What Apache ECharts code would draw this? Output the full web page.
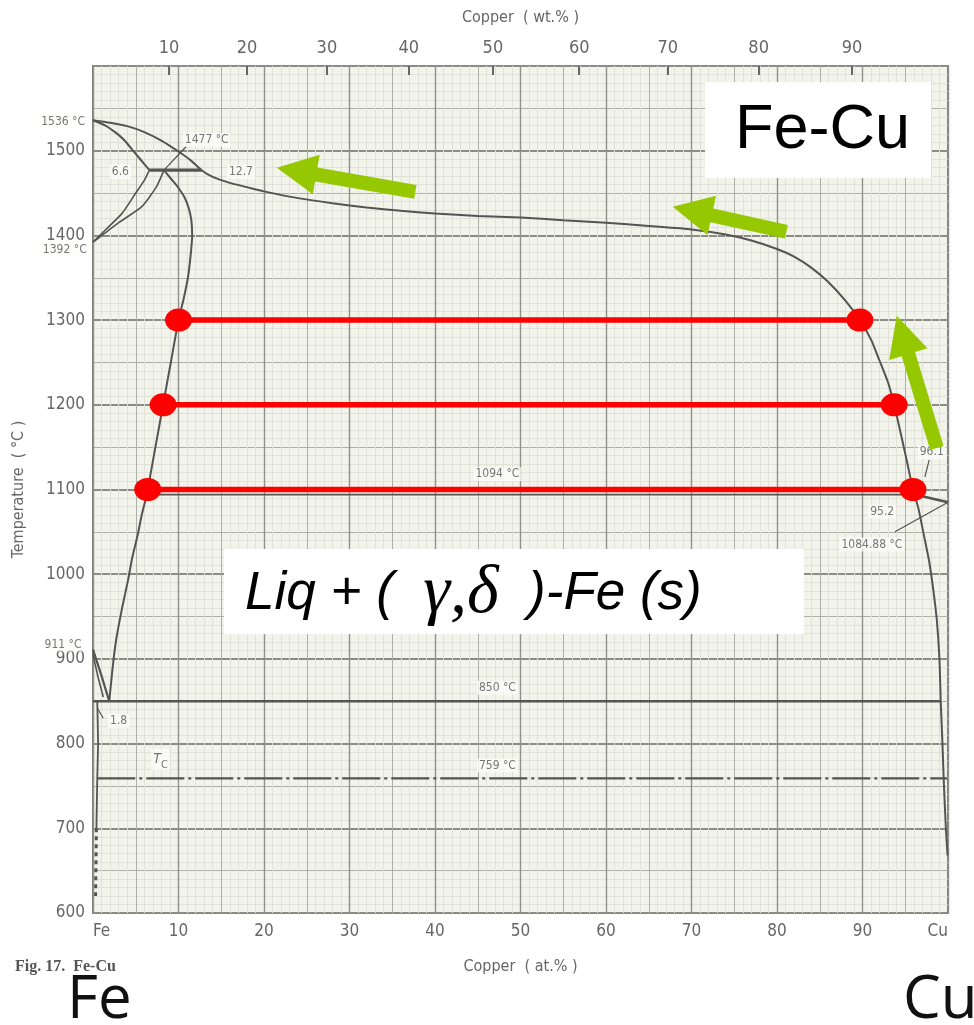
<!DOCTYPE html>
<html>
<head>
<meta charset="utf-8">
<script src="https://cdn.jsdelivr.net/npm/echarts@6/dist/echarts.min.js"></script>
<style>
  html, body { margin: 0; padding: 0; background: #ffffff; }
  #chart { width: 974px; height: 1025px; }
</style>
</head>
<body>
<div id="chart"></div>
<script>
// ---- Axis ticks ----
const atTicks = [0, 10, 20, 30, 40, 50, 60, 70, 80, 90, 100];   // Copper (at.%)
const wtTicks = [10, 20, 30, 40, 50, 60, 70, 80, 90];           // Copper (wt.%)
const tempTicks = [600, 700, 800, 900, 1000, 1100, 1200, 1300, 1400, 1500];

// ---- Phase boundaries, [Cu at.%, T °C] ----
const liquidus = [[0,1536],[2,1533],[4,1529],[6,1522],[8,1512],[10,1499],[11.5,1488],[12.7,1477],
  [14,1469],[16,1462],[18,1457],[20,1452],[24,1444],[28,1438],[32,1433],[36,1429],[40,1426],
  [45,1423],[50,1421],[55,1418],[60,1415],[65,1411],[70,1407],[74,1401],[77,1394],[80,1384],
  [82,1375],[84,1362],[86,1345],[88,1323],[89.7,1300],[91,1277],[92,1252],[93,1226],[93.7,1200],
  [94.5,1165],[95.2,1133],[95.9,1100],[96.1,1094]];
const cuSolvus = [[96.1,1094],[96.6,1075],[97.2,1045],[97.8,1015],[98.3,980],[98.7,945],[99.0,900],
  [99.15,850],[99.35,800],[99.5,757],[99.75,700],[99.95,668]];
const cuMelting = [[96.1,1094],[100,1084.88]];
const gammaBoundary = [[8.3,1477],[9.2,1466],[10.0,1456],[10.7,1445],[11.2,1432],[11.5,1418],
  [11.6,1400],[11.4,1375],[11.1,1350],[10.6,1325],[10.0,1300],[9.1,1250],[8.2,1200],[7.3,1150],
  [6.4,1100],[6.3,1094],[5.7,1070],[5.2,1045],[4.6,1020],[4.1,993],[3.4,960],[2.7,922],[2.3,890],[1.9,850]];
const deltaSolidus = [[0,1536],[1.4,1530],[2.7,1521],[3.7,1512],[4.6,1501],[5.6,1489],[6.6,1477]];
const deltaLimit = [[6.6,1477],[6.0,1465],[5.0,1450],[3.4,1426],[1.5,1407],[0,1392]];
const gammaLimit = [[8.3,1477],[7.4,1457],[5.7,1434],[3.0,1415],[1.3,1402],[0,1392]];
const gammaAlpha = [[0,911],[1.0,880],[1.9,850]];
const alphaGamma = [[0,905],[0.6,878],[1.2,855]];
const alphaSolvus = [[0.5,850],[0.6,800],[0.5,759],[0.4,700]];
const alphaSolvusLow = [[0.4,700],[0.3,620]];

// ---- Invariant temperatures ----
const peritecticT = 1477, peritecticRange = [6.6, 12.7];
const cuPeritecticT = 1094, cuPeritecticRange = [6.3, 96.1];
const eutectoidT = 850, eutectoidRange = [0, 99.15];
const curieT = 759, curieRange = [0.5, 99.9];

// ---- Tie lines ----
const tieTemps = [1300, 1200, 1100];
const tieLeft = [10.0, 8.2, 6.4];
const tieRight = [89.7, 93.7, 95.9];

// ---- Direction arrows: [fromAt, fromT, toAt, toT] ----
const arrows = [[37.7,1451.5,21.5,1480],[81.1,1404.3,67.8,1433.8],[98.7,1149,94.0,1305]];

// ---- Small diagram labels: [at, T, text] ----
const notes = [
  [-3.5,1534,'1536 °C'], [-3.3,1383,'1392 °C'], [-3.5,917,'911 °C'],
  [13.3,1513,'1477 °C'], [3.2,1475,'6.6'], [17.3,1475,'12.7'],
  [3.0,827,'1.8'], [47.3,866,'850 °C'], [47.3,774,'759 °C'], [47.3,1118,'1094 °C'],
  [98.1,1144,'96.1'], [92.3,1074,'95.2'], [91.1,1035,'1084.88 °C']
];
const leaders = [
  [[8.3,1477],[10.9,1505]],
  [[97.8,1135],[97.3,1115]],
  [[100,1084.88],[93.8,1050]],
  [[0.5,842],[1.2,830]]
];

const M_CU = 63.546, M_FE = 55.845;
const wtToAt = w => 100 * (w / M_CU) / (w / M_CU + (100 - w) / M_FE);
const atToWt = a => 100 * (a * M_CU) / (a * M_CU + (100 - a) * M_FE);
const wtPos = wtTicks.map(wtToAt);

const NARROW = "'DejaVu Sans Condensed','Liberation Sans Narrow','Arial Narrow',sans-serif";
const INK = '#545452';

function gridX(interval, color, width) {
  return { type: 'value', min: 0, max: 100, interval, position: 'bottom',
    axisLine: { show: false }, axisTick: { show: false }, axisLabel: { show: false },
    splitLine: { show: true, lineStyle: { color, width } } };
}
function gridY(interval, color, width) {
  return { type: 'value', min: 600, max: 1600, interval, position: 'left',
    axisLine: { show: false }, axisTick: { show: false }, axisLabel: { show: false },
    splitLine: { show: true, lineStyle: { color, width } } };
}

function curve(data, opts = {}) {
  return {
    type: 'line', xAxisIndex: 2, yAxisIndex: 2, data, showSymbol: false, symbol: 'none',
    smooth: opts.smooth === undefined ? 0.2 : opts.smooth, silent: true, z: 3,
    lineStyle: { color: INK, width: opts.width || 2, type: opts.type || 'solid' }
  };
}

const series = [
  curve(liquidus),
  curve(cuSolvus),
  curve(cuMelting, { smooth: false, width: 2.5 }),
  curve(gammaBoundary),
  curve(deltaSolidus),
  curve(deltaLimit, { width: 1.6 }),
  curve(gammaLimit, { width: 1.6 }),
  curve(gammaAlpha, { smooth: false, width: 2.2 }),
  curve(alphaGamma, { smooth: false, width: 1.6 }),
  curve(alphaSolvus, { smooth: false, width: 1.8 }),
  curve(alphaSolvusLow, { smooth: false, width: 3, type: [4, 4] }),
  curve(peritecticRange.map(x => [x, peritecticT]), { smooth: false, width: 3.2 }),
  curve(cuPeritecticRange.map(x => [x, cuPeritecticT]), { smooth: false, width: 1.6 }),
  curve(eutectoidRange.map(x => [x, eutectoidT]), { smooth: false, width: 2.6 }),
  curve(curieRange.map(x => [x, curieT]), { smooth: false, width: 2.4, type: [38, 4, 3, 4] })
];
leaders.forEach(l => series.push(curve(l, { smooth: false, width: 1.2 })));

// red tie lines with their end points
tieTemps.forEach((t, i) => {
  series.push({
    type: 'line', xAxisIndex: 2, yAxisIndex: 2, silent: true, z: 6, symbol: 'none',
    data: [[tieLeft[i], t], [tieRight[i], t]],
    lineStyle: { color: '#ff0000', width: 5.5 }
  });
});
series.push({
  type: 'scatter', xAxisIndex: 2, yAxisIndex: 2, silent: true, z: 7,
  symbol: 'circle', symbolSize: [27, 23], itemStyle: { color: '#ff0000', opacity: 1 },
  data: tieTemps.flatMap((t, i) => [[tieLeft[i], t], [tieRight[i], t]])
});

// green arrows
series.push({
  type: 'custom', xAxisIndex: 2, yAxisIndex: 2, silent: true, z: 8, clip: false,
  data: arrows,
  encode: { x: [0, 2], y: [1, 3] },
  renderItem: (params, api) => {
    const a = api.coord([api.value(0), api.value(1)]);
    const b = api.coord([api.value(2), api.value(3)]);
    const dx = b[0] - a[0], dy = b[1] - a[1];
    const L = Math.hypot(dx, dy), ux = dx / L, uy = dy / L, nx = -uy, ny = ux;
    const hw = 7, hl = 40, hh = 20;
    const bx = b[0] - ux * hl, by = b[1] - uy * hl;
    return {
      type: 'polygon',
      shape: { points: [
        [a[0] + nx * hw, a[1] + ny * hw], [bx + nx * hw, by + ny * hw], [bx + nx * hh, by + ny * hh],
        b, [bx - nx * hh, by - ny * hh], [bx - nx * hw, by - ny * hw], [a[0] - nx * hw, a[1] - ny * hw]
      ] },
      style: { fill: '#95c800' }
    };
  }
});

// small text labels on the diagram
series.push({
  type: 'scatter', xAxisIndex: 2, yAxisIndex: 2, silent: true, z: 5, clip: false,
  symbolSize: 0,
  data: notes.map(n => ({ value: [n[0], n[1]], name: n[2] })),
  label: {
    show: true, position: 'inside', formatter: p => p.name,
    fontFamily: NARROW, fontSize: 12, color: '#555',
    backgroundColor: 'rgba(252,252,250,0.95)', padding: [1, 2]
  }
});
// Curie temperature symbol
series.push({
  type: 'scatter', xAxisIndex: 2, yAxisIndex: 2, silent: true, z: 5, symbolSize: 0,
  data: [{ value: [7.9, 781], name: 'Tc' }],
  label: {
    show: true, position: 'inside', formatter: '{t|T}{c|C}',
    backgroundColor: 'rgba(252,252,250,0.95)', padding: [0, 2],
    rich: {
      t: { fontFamily: NARROW, fontStyle: 'italic', fontSize: 14, color: '#555' },
      c: { fontFamily: NARROW, fontSize: 11, color: '#555', padding: [10, 0, 0, 0] }
    }
  }
});

const option = {
  animation: false,
  backgroundColor: '#ffffff',
  grid: {
    left: 93, right: 26, top: 66, bottom: 112, show: true,
    backgroundColor: '#f2f3eb', borderColor: '#7a7a76', borderWidth: 2
  },
  xAxis: [
    gridX(1, '#e0e2d8', 1),
    gridX(5, '#aeb0a6', 1),
    {
      type: 'value', min: 0, max: 100, interval: 10, position: 'bottom',
      name: 'Copper  ( at.% )', nameLocation: 'middle', nameGap: 46,
      nameTextStyle: { fontFamily: NARROW, fontSize: 16, color: '#666' },
      axisLine: { show: false }, axisTick: { show: false },
      axisLabel: {
        customValues: atTicks, margin: 10, fontFamily: NARROW, fontSize: 17, color: '#666',
        alignMinLabel: 'left', alignMaxLabel: 'right',
        formatter: v => v === 0 ? 'Fe' : v === 100 ? 'Cu' : String(v)
      },
      splitLine: { show: true, lineStyle: { color: '#8f918a', width: 1.4 } }
    },
    {
      type: 'value', min: 0, max: 100, position: 'top',
      name: 'Copper  ( wt.% )', nameLocation: 'middle', nameGap: 40,
      nameTextStyle: { fontFamily: NARROW, fontSize: 16, color: '#666' },
      axisLine: { show: false },
      axisTick: { show: true, inside: true, length: 9, customValues: wtPos,
        lineStyle: { color: '#666', width: 2 } },
      axisLabel: {
        customValues: wtPos, margin: 9, fontFamily: NARROW, fontSize: 18, color: '#666',
        formatter: v => String(Math.round(atToWt(v)))
      },
      splitLine: { show: false }
    }
  ],
  yAxis: [
    gridY(10, '#e0e2d8', 1),
    gridY(50, '#aeb0a6', 1.2),
    {
      type: 'value', min: 600, max: 1600, interval: 100, position: 'left',
      name: 'Temperature  ( °C )', nameLocation: 'middle', nameGap: 66, nameRotate: 90,
      nameTextStyle: { fontFamily: NARROW, fontSize: 16, color: '#666' },
      axisLine: { show: false }, axisTick: { show: false },
      axisLabel: { customValues: tempTicks, margin: 8, fontFamily: NARROW, fontSize: 17, color: '#666',
        formatter: v => String(v) },
      splitLine: { show: true, lineStyle: { color: '#8a8c85', width: 1.8 } }
    }
  ],
  series,
  graphic: [
    { type: 'rect', z: 100, shape: { x: 705, y: 82, width: 226, height: 96 }, style: { fill: '#ffffff' } },
    { type: 'text', z: 101, x: 735, y: 131,
      style: { text: 'Fe-Cu', fontFamily: 'Liberation Sans, Arial, sans-serif', fontSize: 63,
        fill: '#000', verticalAlign: 'middle', align: 'left' } },
    { type: 'rect', z: 100, shape: { x: 224, y: 549, width: 580, height: 85 }, style: { fill: '#ffffff' } },
    { type: 'text', z: 101, x: 245, y: 594,
      style: {
        text: '{a|Liq + (  }{g|γ,δ}{a|  )-Fe (s)}', verticalAlign: 'middle', align: 'left',
        rich: {
          a: { fontFamily: 'Liberation Sans, Arial, sans-serif', fontStyle: 'italic', fontSize: 53, fill: '#000' },
          g: { fontFamily: 'Liberation Serif, serif', fontStyle: 'italic', fontSize: 68, fill: '#000' }
        }
      } },
    { type: 'text', z: 101, x: 15, y: 967,
      style: { text: 'Fig. 17.  Fe-Cu', fontFamily: 'Liberation Serif, serif', fontWeight: 'bold',
        fontSize: 16, fill: '#555', verticalAlign: 'middle' } },
    { type: 'text', z: 101, x: 67, y: 1001,
      style: { text: 'Fe', fontFamily: "'Open Sans', sans-serif", fontSize: 60, fill: '#111', verticalAlign: 'middle' } },
    { type: 'text', z: 101, x: 903, y: 1001,
      style: { text: 'Cu', fontFamily: "'Open Sans', sans-serif", fontSize: 60, fill: '#111', verticalAlign: 'middle' } }
  ]
};

const chart = echarts.init(document.getElementById('chart'), null, { renderer: 'canvas' });
chart.setOption(option);
</script>
</body>
</html>
